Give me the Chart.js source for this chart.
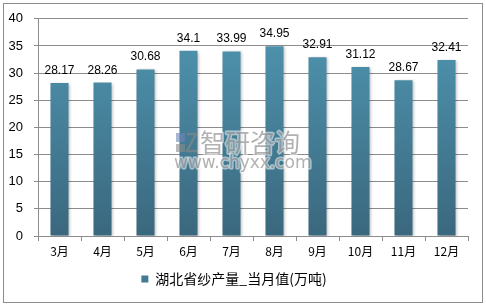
<!DOCTYPE html>
<html><head><meta charset="utf-8">
<script src="https://cdn.jsdelivr.net/npm/chart.js@4/dist/chart.umd.min.js"></script>
<style>html,body{margin:0;padding:0;background:#fff}#wrap{width:486px;height:306px;position:relative}</style>
</head><body><div id="wrap"><canvas id="c" width="486" height="306"></canvas></div>
<script>
const categories = ['3月','4月','5月','6月','7月','8月','9月','10月','11月','12月'];
const seriesName = '湖北省纱产量_当月值(万吨)';
const values = [28.17, 28.26, 30.68, 34.1, 33.99, 34.95, 32.91, 31.12, 28.67, 32.41];
const yTicks = [0, 5, 10, 15, 20, 25, 30, 35, 40];

const frame = {
  id: 'frame',
  beforeDraw(chart) {
    const ctx = chart.ctx;
    ctx.save();
    ctx.fillStyle = '#fff';
    ctx.fillRect(0, 0, 486, 306);
    ctx.strokeStyle = '#8c8c8c';
    ctx.lineWidth = 1;
    ctx.strokeRect(3.5, 3.5, 479, 299);
    ctx.restore();
  }
};
const watermark = {
  id: 'watermark',
  afterDatasetsDraw(chart) {
    const ctx = chart.ctx;
    ctx.save();
    ctx.globalAlpha = 0.6;
    ctx.lineJoin = 'round';
    ctx.textBaseline = 'middle';
    ctx.textAlign = 'left';
    ctx.font = '25px "Noto Sans CJK SC"';
    ctx.strokeStyle = 'rgba(255,255,255,0.9)';
    ctx.lineWidth = 3;
    ctx.strokeText('智研咨询', 200, 142);
    ctx.fillStyle = '#7d7d7d';
    ctx.fillText('智研咨询', 200, 142);
    ctx.font = '17px "DejaVu Sans"';
    ctx.strokeText('www.chyxx.com', 174, 164);
    ctx.fillText('www.chyxx.com', 174, 164);
    ctx.fillStyle = '#6f86b8';
    ctx.fillRect(176, 133, 9, 9);
    ctx.fillStyle = '#8a8a8a';
    ctx.fillRect(176, 144, 9, 8);
    ctx.strokeStyle = '#8a8a8a';
    ctx.lineWidth = 2.5;
    ctx.beginPath();
    ctx.moveTo(187, 134); ctx.lineTo(196, 134); ctx.lineTo(187, 151); ctx.lineTo(197, 151);
    ctx.stroke();
    ctx.restore();
  }
};
const valueLabels = {
  id: 'valueLabels',
  afterDatasetsDraw(chart) {
    const ctx = chart.ctx;
    const meta = chart.getDatasetMeta(0);
    ctx.save();
    ctx.font = '12px "Liberation Sans"';
    ctx.fillStyle = '#000';
    ctx.textAlign = 'center';
    ctx.textBaseline = 'alphabetic';
    meta.data.forEach((bar, i) => {
      ctx.fillText(String(values[i]), bar.x, bar.y - 9);
    });
    ctx.restore();
  }
};
const shadow = {
  id: 'shadow',
  beforeDatasetDraw(chart) {
    const ctx = chart.ctx;
    ctx.save();
    ctx.shadowColor = 'rgba(0,0,0,0.28)';
    ctx.shadowBlur = 3;
    ctx.shadowOffsetX = 1.5;
    ctx.shadowOffsetY = 1;
  },
  afterDatasetDraw(chart) { chart.ctx.restore(); }
};

new Chart(document.getElementById('c'), {
  type: 'bar',
  data: {
    labels: categories,
    datasets: [{
      label: seriesName,
      data: values,
      backgroundColor(context) {
        const ca = context.chart.chartArea;
        if (!ca) return '#4a8aa5';
        const g = context.chart.ctx.createLinearGradient(0, ca.top, 0, ca.bottom);
        g.addColorStop(0, '#5096b1');
        g.addColorStop(1, '#3a687e');
        return g;
      },
      borderWidth: 0,
      categoryPercentage: 1,
      barPercentage: 0.42
    }]
  },
  options: {
    responsive: false,
    animation: false,
    devicePixelRatio: 1,
    layout: { padding: { left: 0, right: 18, top: 17, bottom: 10 } },
    plugins: {
      tooltip: { enabled: false },
      legend: {
        position: 'bottom',
        labels: {
          boxWidth: 7, boxHeight: 7, padding: 6,
          color: '#000',
          font: { family: '"Noto Sans CJK SC"', size: 14 },
          generateLabels(chart) {
            return [{ text: seriesName, fillStyle: '#427b94', strokeStyle: '#427b94', lineWidth: 0, datasetIndex: 0 }];
          }
        }
      }
    },
    scales: {
      x: {
        grid: { display: true, drawOnChartArea: false, offset: true, color: '#8c8c8c', tickLength: 5 },
        border: { color: '#8c8c8c' },
        ticks: { color: '#000', font: { family: '"Noto Sans CJK SC"', size: 12 }, padding: 3 },
        afterFit(s) { s.height = 30; }
      },
      y: {
        min: 0, max: 40,
        afterBuildTicks(s) { s.ticks = yTicks.map(v => ({ value: v })); },
        grid: { color: '#8c8c8c', tickLength: 4 },
        border: { color: '#8c8c8c' },
        ticks: { color: '#000', font: { family: '"Liberation Sans"', size: 13 }, padding: 11 },
        afterFit(s) { s.width = 38; }
      }
    }
  },
  plugins: [frame, shadow, valueLabels, watermark]
});
</script>
</body></html>
